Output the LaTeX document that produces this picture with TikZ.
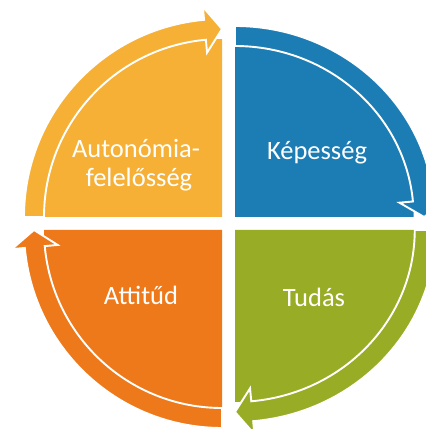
\documentclass[tikz,border=0pt]{standalone}
\usepackage{fontspec}
\setmainfont{Carlito}
\definecolor{quadY}{RGB}{246,176,53}
\definecolor{quadB}{RGB}{28,125,181}
\definecolor{quadG}{RGB}{153,172,38}
\definecolor{quadO}{RGB}{237,121,26}

\begin{document}
\begin{tikzpicture}[x=1pt,y=1pt,
  lbl/.style={text=white,anchor=base,inner sep=0pt,font=\fontsize{26.5}{30}\selectfont},
  ring/.style={draw=white,line width=1.9pt}]

  \useasboundingbox (0,0) rectangle (426,429);

  \foreach \col/\cx/\cy/\xs/\R/\ta/\ha in {quadY/222/212/1/198/180/90,
      quadB/235/212/1.045/191/90/0, quadG/235/199/1.045/192/0/-90,
      quadO/222/199/1/198/270/180} {
    \begin{scope}[shift={(\cx,\cy)},xscale=\xs]
      \pgfmathsetmacro{\Rin}{\R-20}
      \pgfmathsetmacro{\Rmid}{\R-10}
      \pgfmathsetmacro{\Rhi}{\R+13}
      \pgfmathsetmacro{\Rlo}{\R-33}
      \pgfmathsetmacro{\hb}{\ha+5.2}
      \fill[\col] (0,0) -- (\ta:\Rin) arc[start angle=\ta,end angle=\ha,radius=\Rin] -- cycle;
      \filldraw[ring,fill=\col] (\ta:\R) arc[start angle=\ta,end angle=\hb,radius=\R]
        -- (\hb:\Rhi) -- (\ha:\Rmid) -- (\hb:\Rlo) -- (\hb:\Rin)
        arc[start angle=\hb,end angle=\ta,radius=\Rin] -- cycle;
    \end{scope}
  }

  \node[lbl] (kep) at (317,269) {Képesség};
  \node[lbl] (tud) at (314,122) {Tudás};
  \node[lbl] (att) at (141,124) {Attitűd};
  \node[lbl] (aut) at (136,271) {Autonómia-};
  \node[lbl] (fel) at (139,242) {felelősség};
\end{tikzpicture}
\end{document}
